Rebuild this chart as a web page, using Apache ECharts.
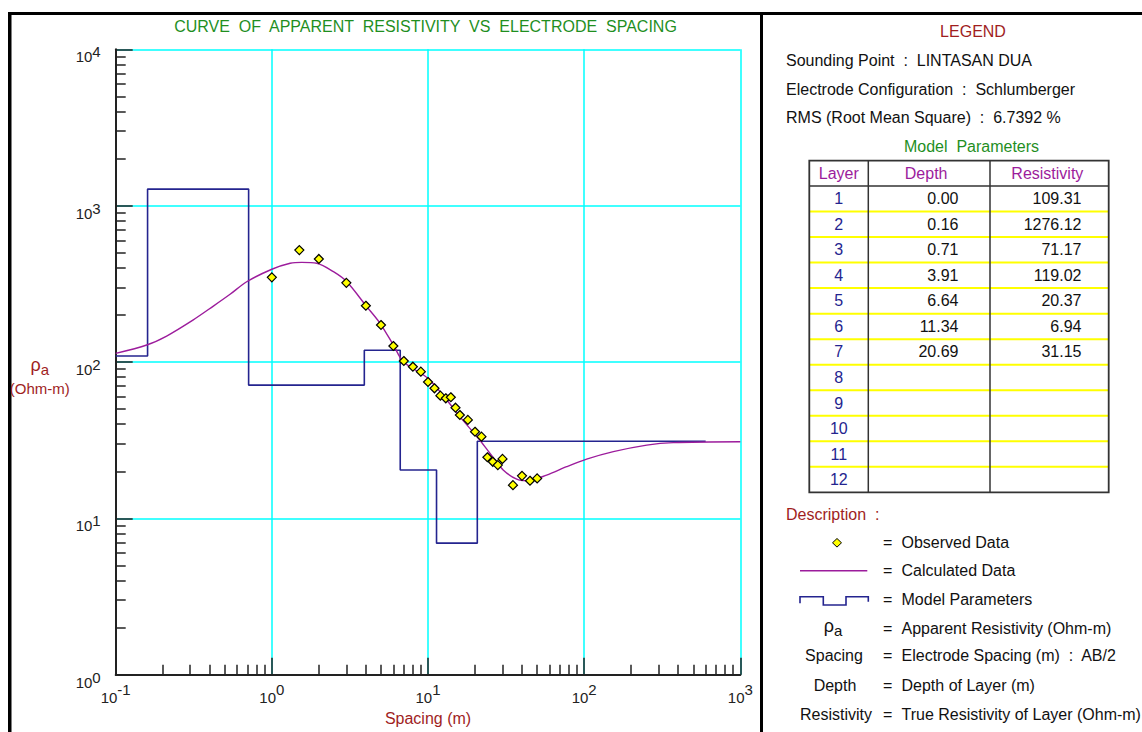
<!DOCTYPE html>
<html>
<head>
<meta charset="utf-8">
<script src="https://cdn.jsdelivr.net/npm/echarts@6/dist/echarts.min.js"></script>
<style>html,body{margin:0;padding:0;background:#fff}#c{width:1142px;height:732px}</style>
</head>
<body>
<div id="c"></div>
<script>
// ---------------- data ----------------
const titleText = 'CURVE  OF  APPARENT  RESISTIVITY  VS  ELECTRODE  SPACING';
const xMin = 0.1, xMax = 1000, yMin = 1, yMax = 10000;
const minorMultipliers = [2, 3, 4, 5, 6, 7, 8, 9];
const xDecades = [0.1, 1, 10, 100];
const yDecades = [1, 10, 100, 1000];

// Model parameters (table)
const layerNumbers = [1, 2, 3, 4, 5, 6, 7, 8, 9, 10, 11, 12];
const depth = [0.00, 0.16, 0.71, 3.91, 6.64, 11.34, 20.69];
const resistivity = [109.31, 1276.12, 71.17, 119.02, 20.37, 6.94, 31.15];
const modelEndSpacing = 600;

// Observed data
const obsSpacing = [1.0, 1.5, 2.0, 3.0, 4.0, 5.0, 6.0, 7.0, 8.0, 9.0, 10, 11, 12, 13, 14, 15, 16, 18, 20, 22, 24, 26, 28, 30, 35, 40, 45, 50];
const obsRho = [348, 520, 456, 321, 229, 172.5, 126.6, 101.5, 93.3, 86.7, 74.5, 67.9, 60.9, 58.6, 59.5, 51, 45.8, 42.6, 35.8, 33.3, 24.6, 23, 21.9, 24, 16.3, 18.7, 17.4, 18.0];

// Calculated curve
const calcSpacing = [0.1, 0.158, 0.212, 0.314, 0.42, 0.54, 0.69, 1.0, 1.31, 1.55, 1.94, 2.48, 3.02, 4.05, 4.93, 6.0, 6.95, 10, 13.2, 16, 21, 24.9, 30.3, 37, 42.9, 57.5, 77.3, 103.7, 153.8, 251.8, 372, 1000];
const calcRho = [113.6, 128.5, 146.6, 186, 227, 271, 326, 392, 428, 434, 428, 378, 326, 226, 176.8, 128.5, 100.4, 78.6, 57.1, 44.7, 32.5, 26.1, 20.4, 17.8, 17.4, 18.9, 21.4, 23.9, 26.7, 29.4, 30.5, 30.9];

// ---------------- build ----------------
const FONT = '"Liberation Sans", Arial, sans-serif';
const DARKRED = '#a01e1e';
const GREEN = '#1f8f1f';
const NAVY = '#24248f';
const PURPLE = '#9c1c9c';
const CYAN = '#00ffff';

const xMinorVals = [], yMinorVals = [];
xDecades.forEach(d => minorMultipliers.forEach(m => xMinorVals.push(+(d * m).toPrecision(3))));
yDecades.forEach(d => minorMultipliers.forEach(m => yMinorVals.push(+(d * m).toPrecision(3))));

const obsData = obsSpacing.map((x, i) => [x, obsRho[i]]);
const calcData = calcSpacing.map((x, i) => [x, calcRho[i]]);
const modelData = depth.map((d, i) => [Math.max(d, xMin), resistivity[i]]);
modelData.push([modelEndSpacing, resistivity[resistivity.length - 1]]);

const exp10 = v => Math.round(Math.log10(v));

function splitAxis(min, max, pos) {
  return { type: 'log', logBase: 10, min, max, position: pos, z: 0,
    axisLine: { show: false }, axisTick: { show: false }, axisLabel: { show: false },
    splitLine: { show: true, lineStyle: { color: CYAN, width: 1.5 } } };
}
function minorAxis(min, max, pos, vals) {
  return { type: 'log', logBase: 10, min, max, position: pos, z: 1,
    axisLine: { show: false },
    axisTick: { show: true, inside: true, length: 10, customValues: vals, lineStyle: { color: '#222', width: 1.5 } },
    axisLabel: { show: false }, splitLine: { show: false } };
}

const xMain = { type: 'log', logBase: 10, min: xMin, max: xMax, position: 'bottom', z: 1,
  axisLine: { show: true, onZero: false, lineStyle: { color: '#222', width: 2 } },
  axisTick: { show: true, inside: true, length: 17, lineStyle: { color: '#222', width: 1.5 } },
  splitLine: { show: false },
  axisLabel: { show: true, margin: 7, fontSize: 15, fontFamily: FONT, color: '#222', showMinLabel: true, showMaxLabel: true,
    formatter: v => '{b|10}{s|' + exp10(v) + '}',
    rich: {
      b: { fontSize: 15, lineHeight: 32, fontFamily: FONT, color: '#222' },
      s: { fontSize: 15, lineHeight: 15, fontFamily: FONT, color: '#222', verticalAlign: 'top' }
    } },
  name: 'Spacing (m)', nameLocation: 'middle', nameGap: 35,
  nameTextStyle: { color: DARKRED, fontSize: 16, fontFamily: FONT }
};
const yMain = { type: 'log', logBase: 10, min: yMin, max: yMax, position: 'left', z: 1,
  axisLine: { show: true, onZero: false, lineStyle: { color: '#222', width: 2 } },
  axisTick: { show: true, inside: true, length: 17, lineStyle: { color: '#222', width: 1.5 } },
  splitLine: { show: false },
  axisLabel: { show: true, margin: 15, padding: [15, 0, 0, 0], fontSize: 15, fontFamily: FONT, color: '#222', showMinLabel: true, showMaxLabel: true,
    formatter: v => '{b|10}{s|' + exp10(v) + '}',
    rich: {
      b: { fontSize: 15, lineHeight: 25, fontFamily: FONT, color: '#222' },
      s: { fontSize: 15, lineHeight: 15, fontFamily: FONT, color: '#222', verticalAlign: 'top' }
    } },
  name: '{r|ρ}{a|a}\n{u|(Ohm-m)}', nameLocation: 'middle', nameRotate: 0, nameGap: 73,
  nameTextStyle: { align: 'center', verticalAlign: 'middle', padding: [26, 0, 0, 0], fontSize: 15, fontFamily: FONT, color: DARKRED,
    rich: {
      r: { fontSize: 18, lineHeight: 14, fontFamily: FONT, color: DARKRED, verticalAlign: 'top' },
      a: { fontSize: 15, lineHeight: 26, fontFamily: FONT, color: DARKRED },
      u: { fontSize: 15, lineHeight: 12, fontFamily: FONT, color: DARKRED }
    } }
};

// ---------- right panel graphics ----------
const g = [];
function txt(x, y, text, color, align, size) {
  g.push({ type: 'text', x, y, silent: true, style: { text, fill: color || '#111', font: (size || 16) + 'px ' + FONT,
    align: align || 'left', verticalAlign: 'middle', textAlign: align || 'left', textVerticalAlign: 'middle' } });
}
function ln(x1, y1, x2, y2, color, w) {
  g.push({ type: 'line', silent: true, shape: { x1, y1, x2, y2 }, style: { stroke: color, lineWidth: w } });
}
// frame
g.push({ type: 'rect', silent: true, shape: { x: 8, y: 12, width: 3.5, height: 720 }, style: { fill: '#000' } });
g.push({ type: 'rect', silent: true, shape: { x: 8, y: 12, width: 1134, height: 3 }, style: { fill: '#000' } });
g.push({ type: 'rect', silent: true, shape: { x: 760, y: 12, width: 3, height: 720 }, style: { fill: '#000' } });

txt(973, 31.5, 'LEGEND', DARKRED, 'center');
txt(786, 60.5, 'Sounding Point  :  LINTASAN DUA');
txt(786, 89, 'Electrode Configuration  :  Schlumberger');
txt(786, 117.5, 'RMS (Root Mean Square)  :  6.7392 %');
txt(971.5, 146, 'Model  Parameters', GREEN, 'center');

// table
const tL = 809.3, tR = 1108.7, tT = 160.7, hB = 186, rowH = 25.53, c1 = 868.3, c2 = 990;
const tB = hB + rowH * layerNumbers.length;
for (let i = 1; i < layerNumbers.length; i++) ln(tL, hB + rowH * i, tR, hB + rowH * i, '#ffff00', 2);
ln(tL, hB, tR, hB, '#333', 1.5);
g.push({ type: 'rect', silent: true, shape: { x: tL, y: tT, width: tR - tL, height: tB - tT }, style: { fill: 'none', stroke: '#333', lineWidth: 1.8 } });
ln(c1, tT, c1, tB, '#333', 1.5);
ln(c2, tT, c2, tB, '#333', 1.5);
txt((tL + c1) / 2, 173.5, 'Layer', PURPLE, 'center');
txt((c1 + c2) / 2 - 3, 173.5, 'Depth', PURPLE, 'center');
txt((c2 + tR) / 2 - 2, 173.5, 'Resistivity', PURPLE, 'center');
layerNumbers.forEach((n, i) => {
  const cy = hB + rowH * (i + 0.5);
  txt((tL + c1) / 2, cy, String(n), NAVY, 'center');
  if (i < depth.length) {
    txt(958.5, cy, depth[i].toFixed(2), '#111', 'right');
    txt(1081.5, cy, resistivity[i].toFixed(2), '#111', 'right');
  }
});

// description
txt(786, 514, 'Description  :', DARKRED);
g.push({ type: 'polygon', silent: true, shape: { points: [[837, 538.5], [841.5, 542.8], [837, 547.1], [832.5, 542.8]] }, style: { fill: '#ffff00', stroke: '#000', lineWidth: 1 } });
ln(800, 570.7, 867.3, 570.7, PURPLE, 1.4);
g.push({ type: 'polyline', silent: true, shape: { points: [[800, 603.3], [800, 596.7], [823.3, 596.7], [823.3, 605], [846, 605], [846, 596.7], [868.3, 596.7], [868.3, 601.7]] }, style: { stroke: NAVY, lineWidth: 1.6, fill: 'none' } });
g.push({ type: 'text', x: 833, y: 630, silent: true, style: { text: '{r|ρ}{a|a}', align: 'center', verticalAlign: 'middle', textAlign: 'center', textVerticalAlign: 'middle',
  rich: { r: { fontSize: 18, lineHeight: 14, fontFamily: FONT, fill: '#111', verticalAlign: 'top' }, a: { fontSize: 15, lineHeight: 26, fontFamily: FONT, fill: '#111' } } } });
txt(834, 655.5, 'Spacing', '#111', 'center');
txt(835, 685, 'Depth', '#111', 'center');
txt(836, 714, 'Resistivity', '#111', 'center');
const descTexts = ['Observed Data', 'Calculated Data', 'Model Parameters', 'Apparent Resistivity (Ohm-m)', 'Electrode Spacing (m)  :  AB/2', 'Depth of Layer (m)', 'True Resistivity of Layer (Ohm-m)'];
const descY = [542.5, 570.5, 599, 628, 655.5, 685, 714];
descTexts.forEach((t, i) => { txt(883, descY[i], '=', '#111'); txt(901.5, descY[i], t, '#111'); });

const chart = echarts.init(document.getElementById('c'), null, { renderer: 'svg', width: 1142, height: 732 });
chart.setOption({
  animation: false,
  backgroundColor: '#fff',
  title: { text: titleText, left: 420.5, top: 13, textAlign: 'center',
    textStyle: { color: GREEN, fontSize: 16, fontWeight: 'normal', fontFamily: FONT } },
  grid: { left: 115.7, top: 49.3, width: 624.6, height: 625.4, containLabel: false },
  xAxis: [splitAxis(xMin, xMax, 'bottom'), xMain, minorAxis(xMin, xMax, 'bottom', xMinorVals)],
  yAxis: [splitAxis(yMin, yMax, 'left'), yMain, minorAxis(yMin, yMax, 'left', yMinorVals)],
  series: [
    { type: 'line', name: 'Model Parameters', xAxisIndex: 1, yAxisIndex: 1, data: modelData, step: 'end',
      symbol: 'none', lineStyle: { color: NAVY, width: 1.6 }, z: 3 },
    { type: 'line', name: 'Calculated Data', xAxisIndex: 1, yAxisIndex: 1, data: calcData, smooth: 0.3,
      symbol: 'none', lineStyle: { color: PURPLE, width: 1.4 }, z: 4 },
    { type: 'scatter', name: 'Observed Data', xAxisIndex: 1, yAxisIndex: 1, data: obsData, symbol: 'diamond',
      symbolSize: 9, itemStyle: { color: '#ffff00', borderColor: '#000', borderWidth: 1.2, opacity: 1 }, z: 5 }
  ],
  graphic: { elements: g }
});
</script>
</body>
</html>
